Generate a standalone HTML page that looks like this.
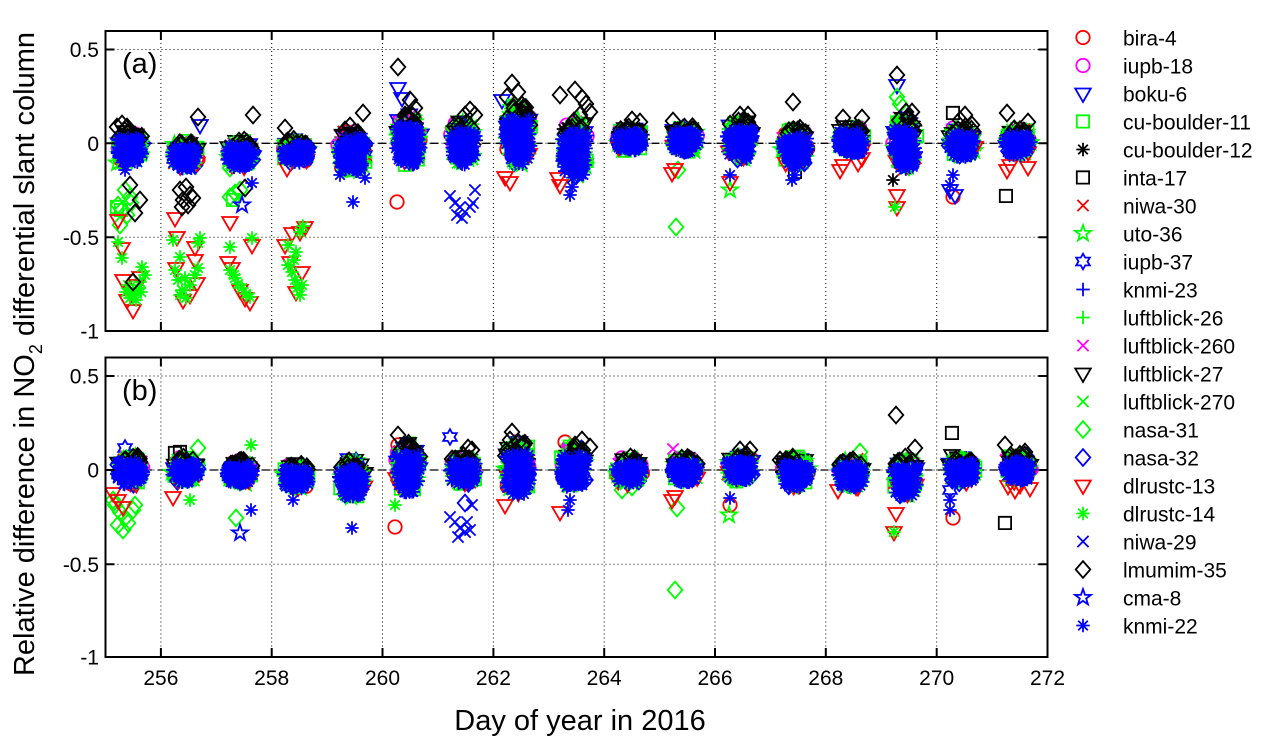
<!DOCTYPE html>
<html><head><meta charset="utf-8">
<style>
html,body{margin:0;padding:0;background:#fff;width:1271px;height:754px;overflow:hidden;}
svg{display:block;}
text{font-family:"Liberation Sans",Arial,sans-serif;fill:#000;}
</style></head><body>
<svg id="c" width="1271" height="754" viewBox="0 0 1271 754" xmlns="http://www.w3.org/2000/svg">
<defs>
<clipPath id="ca"><rect x="105.5" y="31" width="942" height="300"/></clipPath>
<clipPath id="cb"><rect x="105.5" y="357.5" width="942" height="299.5"/></clipPath>
</defs>
<rect x="0" y="0" width="1271" height="754" fill="#fff"/>
<path d="M160.9,31V331M271.7,31V331M382.5,31V331M493.4,31V331M604.2,31V331M715,31V331M825.8,31V331M936.7,31V331M105.5,49.5H1047.5M105.5,143.3H1047.5M105.5,237.3H1047.5" stroke="#000" stroke-width="1" stroke-dasharray="1,3" fill="none"/>
<path d="M105.5,143.3H1047.5" stroke="#000" stroke-width="1.3" stroke-dasharray="8,5" fill="none"/>
<path d="M160.9,357.5V657M271.7,357.5V657M382.5,357.5V657M493.4,357.5V657M604.2,357.5V657M715,357.5V657M825.8,357.5V657M936.7,357.5V657M105.5,376H1047.5M105.5,470H1047.5M105.5,564.3H1047.5" stroke="#000" stroke-width="1" stroke-dasharray="1,3" fill="none"/>
<path d="M105.5,470H1047.5" stroke="#000" stroke-width="1.3" stroke-dasharray="8,5" fill="none"/>
<g id="da" clip-path="url(#ca)"></g>
<g id="db" clip-path="url(#cb)"></g>
<rect x="105.5" y="31" width="942" height="300" fill="none" stroke="#000" stroke-width="2"/>
<rect x="105.5" y="357.5" width="942" height="299.5" fill="none" stroke="#000" stroke-width="2"/>
<path d="M160.9,331V322M271.7,331V322M382.5,331V322M493.4,331V322M604.2,331V322M715,331V322M825.8,331V322M936.7,331V322M160.9,31V40M271.7,31V40M382.5,31V40M493.4,31V40M604.2,31V40M715,31V40M825.8,31V40M936.7,31V40M105.5,49.5H114.5M105.5,143.3H114.5M105.5,237.3H114.5M1047.5,49.5H1038.5M1047.5,143.3H1038.5M1047.5,237.3H1038.5" stroke="#000" stroke-width="2" fill="none"/>
<path d="M160.9,657V648M271.7,657V648M382.5,657V648M493.4,657V648M604.2,657V648M715,657V648M825.8,657V648M936.7,657V648M160.9,357.5V366.5M271.7,357.5V366.5M382.5,357.5V366.5M493.4,357.5V366.5M604.2,357.5V366.5M715,357.5V366.5M825.8,357.5V366.5M936.7,357.5V366.5M105.5,376H114.5M105.5,470H114.5M105.5,564.3H114.5M1047.5,376H1038.5M1047.5,470H1038.5M1047.5,564.3H1038.5" stroke="#000" stroke-width="2" fill="none"/>
<g font-size="21" text-anchor="end">
<text x="99" y="57">0.5</text>
<text x="99" y="150.8">0</text>
<text x="99" y="244.8">-0.5</text>
<text x="99" y="338.5">-1</text>
<text x="99" y="383.5">0.5</text>
<text x="99" y="477.5">0</text>
<text x="99" y="571.8">-0.5</text>
<text x="99" y="664.5">-1</text>
</g>
<g font-size="21" text-anchor="middle">
<text x="160.9" y="685">256</text>
<text x="271.7" y="685">258</text>
<text x="382.5" y="685">260</text>
<text x="493.4" y="685">262</text>
<text x="604.2" y="685">264</text>
<text x="715" y="685">266</text>
<text x="825.8" y="685">268</text>
<text x="936.7" y="685">270</text>
<text x="1047.5" y="685">272</text>
</g>
<text x="580" y="730" font-size="29" text-anchor="middle">Day of year in 2016</text>
<text transform="translate(34,354) rotate(-90)" font-size="29" text-anchor="middle">Relative difference in NO<tspan font-size="18" dy="8">2</tspan><tspan dy="-8"> differential slant column</tspan></text>
<text x="122" y="73" font-size="29">(a)</text>
<text x="122" y="400" font-size="29">(b)</text>
<g id="leg"></g>
<g font-size="21">
<text x="1123" y="45.5">bira-4</text>
<text x="1123" y="73.5">iupb-18</text>
<text x="1123" y="101.5">boku-6</text>
<text x="1123" y="129.5">cu-boulder-11</text>
<text x="1123" y="157.5">cu-boulder-12</text>
<text x="1123" y="185.5">inta-17</text>
<text x="1123" y="213.5">niwa-30</text>
<text x="1123" y="241.5">uto-36</text>
<text x="1123" y="269.5">iupb-37</text>
<text x="1123" y="297.5">knmi-23</text>
<text x="1123" y="325.5">luftblick-26</text>
<text x="1123" y="353.5">luftblick-260</text>
<text x="1123" y="381.5">luftblick-27</text>
<text x="1123" y="409.5">luftblick-270</text>
<text x="1123" y="437.5">nasa-31</text>
<text x="1123" y="465.5">nasa-32</text>
<text x="1123" y="493.5">dlrustc-13</text>
<text x="1123" y="521.5">dlrustc-14</text>
<text x="1123" y="549.5">niwa-29</text>
<text x="1123" y="577.5">lmumim-35</text>
<text x="1123" y="605.5">cma-8</text>
<text x="1123" y="633.5">knmi-22</text>
</g>
</svg>
<script>
(function(){
var NS="http://www.w3.org/2000/svg";
var a=20160912;
var K=1.12;
function r(){a|=0;a=a+0x6D2B79F5|0;var t=Math.imul(a^a>>>15,1|a);t=t+Math.imul(t^t>>>7,61|t)^t;return((t^t>>>14)>>>0)/4294967296;}
function f(n){return n.toFixed(1);}
function star(x,y,n,R,ri){var d='';for(var i=0;i<2*n;i++){var ang=-Math.PI/2+i*Math.PI/n;var rr=(i%2?ri:R)*K;d+=(i?'L':'M')+f(x+rr*Math.cos(ang))+','+f(y+rr*Math.sin(ang));}return d+'Z';}
function mk(t,x,y){
 var k=K;
 switch(t){
 case 'o': return 'M'+f(x-6*k)+','+f(y)+'a'+f(6*k)+','+f(6*k)+' 0 1,0 '+f(12*k)+',0a'+f(6*k)+','+f(6*k)+' 0 1,0 '+f(-12*k)+',0';
 case 'v': return 'M'+f(x-7*k)+','+f(y-4.5*k)+'L'+f(x+7*k)+','+f(y-4.5*k)+'L'+f(x)+','+f(y+7.5*k)+'Z';
 case 's': return 'M'+f(x-5.5*k)+','+f(y-5.5*k)+'h'+f(11*k)+'v'+f(11*k)+'h'+f(-11*k)+'Z';
 case '*': return 'M'+f(x-6*k)+','+f(y)+'h'+f(12*k)+'M'+f(x)+','+f(y-6*k)+'v'+f(12*k)+'M'+f(x-4.3*k)+','+f(y-4.3*k)+'l'+f(8.6*k)+','+f(8.6*k)+'M'+f(x-4.3*k)+','+f(y+4.3*k)+'l'+f(8.6*k)+','+f(-8.6*k);
 case 'x': return 'M'+f(x-5*k)+','+f(y-5*k)+'l'+f(10*k)+','+f(10*k)+'M'+f(x-5*k)+','+f(y+5*k)+'l'+f(10*k)+','+f(-10*k);
 case '+': return 'M'+f(x-6*k)+','+f(y)+'h'+f(12*k)+'M'+f(x)+','+f(y-6*k)+'v'+f(12*k);
 case 'd': return 'M'+f(x)+','+f(y-7.5*k)+'L'+f(x+6.5*k)+','+f(y)+'L'+f(x)+','+f(y+7.5*k)+'L'+f(x-6.5*k)+','+f(y)+'Z';
 case 'p': return star(x,y,5,7.5,3);
 case 'h': return star(x,y,6,7,4);
 }
 return '';
}
var S=[['o','#ff0000'],['o','#ff00ff'],['v','#0000ff'],['s','#00ff00'],['*','#000000'],['s','#000000'],['x','#ff0000'],['p','#00ff00'],['h','#0000ff'],['+','#0000ff'],['+','#00ff00'],['x','#ff00ff'],['v','#000000'],['x','#00ff00'],['d','#00ff00'],['d','#0000ff'],['v','#ff0000'],['*','#00ff00'],['x','#0000ff'],['d','#000000'],['p','#0000ff'],['*','#0000ff']];
var P=[[],[]],F=[[],[]];
for(var i=0;i<22;i++){P[0].push('');P[1].push('');}
function pt(cx,cy,rx,ry,ylo,yhi,edge){
 for(var k=0;k<60;k++){var u=r()*2-1,v=ylo+(yhi-ylo)*r();var e=Math.pow(Math.abs(u),3)+Math.pow(Math.abs(v),2.5);if(e<=1&&(!edge||e>0.4))return[cx+u*rx,cy+v*ry];}
 return[cx,cy];
}
function add(p,s,n,c,ylo,yhi,edge){
 for(var k=0;k<n;k++){var q=pt(c[0],c[1],c[2],c[3],ylo,yhi,edge);P[p][s]+=mk(S[s][0],q[0],q[1]);}
}
function cl(p,c0){
 var c=[c0[0],c0[1],c0[2]+1.5,c0[3]];
 add(p,0,3,c,-1,1,0);
 add(p,1,5,c,-1,0.1,0);
 add(p,2,5,c,-1,0.6,0);
 add(p,3,4,c,-1,1,1);
 add(p,4,10,c,-1,0.2,0);
 add(p,6,3,c,-1,1,0);
 add(p,7,2,c,-1,1,1);
 add(p,9,5,c,-1,1,0);
 add(p,10,6,c,-1,1,1);
 add(p,11,5,c,-1,0,0);
 add(p,12,4,c,-1,-0.2,0);
 add(p,13,6,c,-0.5,1,1);
 add(p,15,3,c,-1,1,0);
 add(p,16,2,c,0.3,1,1);
 add(p,17,12,c,-1,1,1);
 add(p,19,9,c,-1,-0.45,0);
 F[p].push([c[0]-c[2],c[1]-0.5*c[3],2*c[2],1.4*c[3]]);
 add(p,21,70,c,-0.55,1,0);
}
var A=[[130,147,12,17],[185,155,12,14],[240,154,12,14],[296,151,12,12],[352,150,13,22],[408,140,12,26],[463,143,12,22],[518,135,12,30],[575,148,12,30],[630,139,12,12],[685,139,12,14],[740,140,12,20],[795,147,12,20],[851,140,12,15],[905,143,11,27],[962,142,12,16],[1018,142,12,14]];
var B=[[130,470,12,15],[185,470,12,13],[240,472,12,12],[296,476,12,13],[352,478,12,19],[408,468,11,25],[463,470,12,15],[518,468,12,27],[574,467,12,22],[629,471,12,14],[685,470,12,13],[740,468,12,14],[795,472,12,16],[851,473,12,15],[905,477,11,20],[962,470,12,13],[1018,468,12,14]];
A.forEach(function(c){cl(0,c);});
B.forEach(function(c){cl(1,c);});
var EA=[
[16,118,220],[16,122,248],[16,123,280],[16,133,310],[16,140,277],[16,132,293],[16,137,285],[16,127,300],
[17,118,242],[17,122,258],[17,142,267],[17,128,285],[17,133,290],[17,138,288],[17,130,298],[17,136,300],[17,141,292],[17,126,292],[17,140,282],[17,133,295],[17,145,275],
[14,125,190],[14,130,197],[14,118,205],[14,122,210],[14,127,215],[14,120,225],[14,131,203],
[3,117,207],[3,121,210],
[19,130,185],[19,140,200],[19,135,213],[19,133,282],[19,117,127],[19,122,124],[19,127,127],[19,135,135],[19,140,139],
[21,125,170],[7,117,163],
[19,180,190],[19,186,187],[19,190,195],[19,183,200],[19,188,205],[19,193,198],[19,182,207],
[16,175,218],[16,177,237],[16,195,247],[16,195,260],[16,176,268],[16,190,295],[16,197,283],[16,183,300],
[17,173,240],[17,180,257],[17,198,243],[17,200,238],[17,175,270],[17,178,280],[17,182,290],[17,186,298],[17,190,285],[17,195,275],[17,198,268],[17,185,278],[17,180,295],
[19,198,117],[2,200,125],
[14,230,168],[14,230,197],[14,235,193],[14,240,190],[3,233,200],[19,245,188],[21,252,183],[20,242,205],
[16,230,222],[16,252,245],[17,230,247],[17,252,238],
[16,228,262],[16,232,268],[16,245,298],[16,250,302],[16,240,290],
[17,230,270],[17,235,278],[17,238,284],[17,242,288],[17,246,294],[17,250,297],[17,234,275],
[19,253,115],
[16,287,168],[16,285,245],[16,300,232],[16,305,227],[16,292,233],
[17,288,245],[17,303,226],[17,300,232],[17,296,252],
[16,290,262],[16,296,292],[16,302,272],
[17,288,265],[17,292,272],[17,295,280],[17,297,288],[17,300,295],[17,294,260],[17,302,285],
[19,285,128],
[21,353,202],[19,363,113],[19,345,130],[19,350,126],[21,340,175],[21,365,178],
[19,398,67],[19,410,100],[19,415,108],[19,405,115],[2,398,88],[2,402,98],[0,397,202],[2,398,120],
[18,450,196],[18,455,203],[18,460,207],[18,465,212],[18,470,207],[18,473,203],[18,475,190],[18,462,218],[18,457,215],[19,470,110],[19,475,115],[19,465,115],
[19,512,83],[19,518,92],[19,507,97],[19,527,115],[19,522,105],[19,514,108],[19,530,125],[16,505,177],[16,510,182],[14,522,110],[2,502,100],
[19,560,95],[19,575,90],[19,582,98],[19,586,104],[19,590,112],[19,580,115],[16,558,178],[16,560,185],[21,572,187],[21,570,195],
[19,632,120],[19,640,122],
[16,672,173],[16,675,169],[14,676,227],[14,678,170],[19,673,121],
[7,730,190],[16,730,182],[21,730,175],[19,740,115],[19,748,115],[19,744,122],
[19,793,102],[21,792,180],[21,795,175],[5,795,172],
[16,840,170],[16,843,165],[16,858,163],[16,862,158],[19,843,118],[19,862,118],
[19,897,75],[19,906,112],[19,912,112],[2,897,85],[14,897,97],[14,900,104],[16,897,195],[16,897,207],[17,895,207],[4,893,180],
[5,953,113],[21,953,175],[21,950,185],[2,950,190],[2,955,195],[0,953,197],[19,960,120],[19,965,115],[19,972,125],
[19,1007,113],[19,1028,122],[16,1007,170],[16,1028,167],[16,1010,165],[5,1006,196]
];
var EB=[
[14,115,505],[14,120,512],[14,125,518],[14,118,525],[14,128,523],[14,133,510],[14,123,530],[14,113,500],[14,135,505],[16,113,493],[16,118,500],[16,123,507],[8,125,448],[19,130,465],[19,140,462],
[16,173,497],[17,190,500],[14,198,448],[5,175,453],[5,180,452],
[14,236,518],[20,240,533],[21,251,510],[17,251,445],
[21,293,500],
[21,352,528],
[0,395,527],[19,398,435],[17,395,505],[0,398,445],
[8,450,437],[15,465,503],[18,472,505],[18,450,517],[18,455,522],[18,460,528],[18,465,532],[18,470,530],[18,458,537],[18,467,522],[19,468,448],[19,472,450],
[16,505,505],[19,512,432],[19,510,440],[19,522,445],[11,520,440],
[16,560,512],[0,565,442],[19,575,445],[19,582,440],[19,590,447],[21,570,500],[21,568,510],
[14,622,490],[14,632,487],
[11,673,449],[16,672,500],[16,675,496],[14,677,508],[14,675,590],
[7,729,515],[0,730,505],[21,730,498],[19,740,450],[19,750,450],[19,747,455],
[19,780,460],
[16,838,490],[16,858,487],[14,860,452],
[19,896,415],[19,915,448],[16,896,513],[16,894,532],[17,894,532],
[5,952,433],[12,952,455],[21,950,500],[21,950,510],[8,950,490],[0,953,518],
[19,1005,445],[19,1025,452],[16,1008,486],[16,1020,485],[16,1030,488],[16,1015,490],[5,1005,523]
];
EA.forEach(function(e){P[0][e[0]]+=mk(S[e[0]][0],e[1],e[2]);});
EB.forEach(function(e){P[1][e[0]]+=mk(S[e[0]][0],e[1],e[2]);});
var G=[document.getElementById('da'),document.getElementById('db')];
for(var p=0;p<2;p++){
 for(var s=0;s<22;s++){
  if(s===21){
   F[p].forEach(function(q){var rc=document.createElementNS(NS,'rect');rc.setAttribute('x',f(q[0]));rc.setAttribute('y',f(q[1]));rc.setAttribute('width',f(q[2]));rc.setAttribute('height',f(q[3]));rc.setAttribute('rx','5');rc.setAttribute('fill','#0000ff');G[p].appendChild(rc);});
  }
  if(!P[p][s])continue;
  var el=document.createElementNS(NS,'path');
  el.setAttribute('d',P[p][s]);el.setAttribute('fill','none');el.setAttribute('stroke',S[s][1]);el.setAttribute('stroke-width','1.8');
  G[p].appendChild(el);
 }
}
var L=document.getElementById('leg');
for(var i=0;i<22;i++){
 var el2=document.createElementNS(NS,'path');
 el2.setAttribute('d',mk(S[i][0],1083,37.5+28*i));el2.setAttribute('fill','none');el2.setAttribute('stroke',S[i][1]);el2.setAttribute('stroke-width','1.8');
 L.appendChild(el2);
}
})();
</script>
</body></html>
